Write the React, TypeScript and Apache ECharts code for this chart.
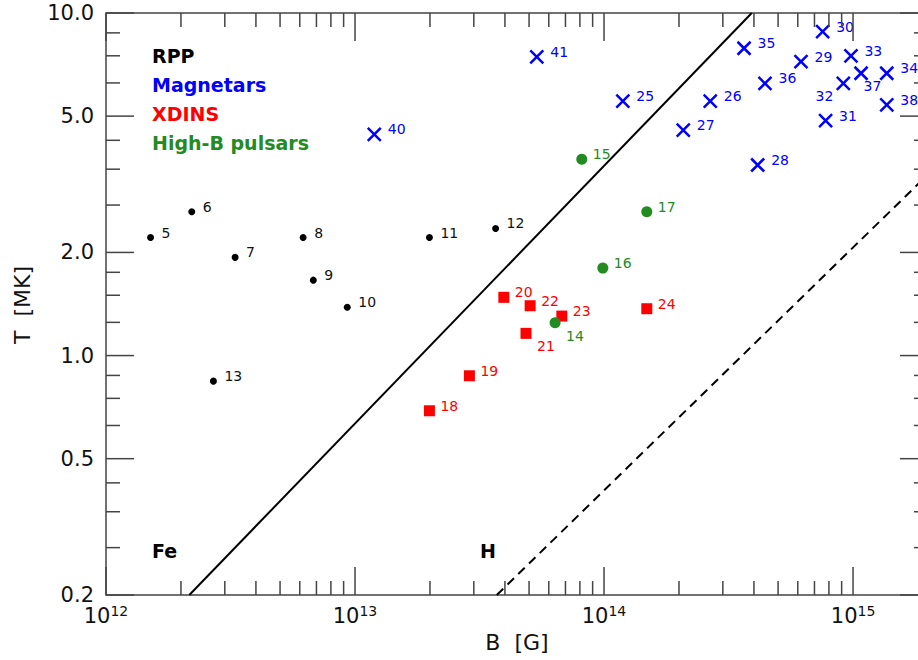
import React, { useEffect, useRef } from 'react';
import * as echarts from 'echarts';

// Axis ranges
const B_MIN = 1e12;
const B_MAX = 2e15;
const T_MIN = 0.2;
const T_MAX = 10;

// Rotation-powered pulsars
const rppNames = ['5', '6', '7', '8', '9', '10', '11', '12', '13'];
const rppB = [1.51e12, 2.21e12, 3.3e12, 6.19e12, 6.8e12, 9.31e12, 1.99e13, 3.67e13, 2.7e12];
const rppT = [2.21, 2.63, 1.935, 2.21, 1.66, 1.383, 2.21, 2.35, 0.842];

// Magnetars
const magNames = ['25', '26', '27', '28', '29', '30', '31', '32', '33', '34', '35', '36', '37', '38', '40', '41'];
const magB = [1.19e14, 2.67e14, 2.08e14, 4.14e14, 6.18e14, 7.55e14, 7.76e14, 9.14e14, 9.81e14, 1.366e15, 3.65e14, 4.43e14, 1.077e15, 1.366e15, 1.195e13, 5.37e13];
const magT = [5.53, 5.53, 4.55, 3.6, 7.21, 8.82, 4.85, 6.23, 7.5, 6.67, 7.89, 6.23, 6.67, 5.39, 4.42, 7.45];

// XDINS
const xdinsNames = ['18', '19', '20', '21', '22', '23', '24'];
const xdinsB = [1.99e13, 2.88e13, 3.96e13, 4.86e13, 5.05e13, 6.77e13, 1.485e14];
const xdinsT = [0.69, 0.873, 1.479, 1.161, 1.398, 1.304, 1.37];

// High-B pulsars
const highBNames = ['14', '15', '16', '17'];
const highBB = [6.36e13, 8.14e13, 9.89e13, 1.485e14];
const highBT = [1.247, 3.74, 1.8, 2.63];

// Boundary lines
const feLineB = [2.16e12, 3.92e14];
const feLineT = [0.2, 10];
const hLineB = [3.71e13, 2e15];
const hLineT = [0.2, 3.38];

// Ticks
const xMajorTicks = [1e12, 1e13, 1e14, 1e15];
const xMinorTicks = [
  2e12, 3e12, 4e12, 5e12, 6e12, 7e12, 8e12, 9e12,
  2e13, 3e13, 4e13, 5e13, 6e13, 7e13, 8e13, 9e13,
  2e14, 3e14, 4e14, 5e14, 6e14, 7e14, 8e14, 9e14,
];
const yMajorTicks = [0.2, 0.5, 1, 2, 5, 10];
const yTickLabels = ['0.2', '0.5', '1.0', '2.0', '5.0', '10.0'];
const yMinorTicks = [0.275, 0.35, 0.425, 0.625, 0.75, 0.875, 1.25, 1.5, 1.75, 2.75, 3.5, 4.25, 6.25, 7.5, 8.75];

const legendItems = ['RPP', 'Magnetars', 'XDINS', 'High-B pulsars'];

const BLACK = '#000000';
const BLUE = '#0000ff';
const RED = '#ff0000';
const GREEN = '#228b22';
const TICK = '#444444';
const FONT = '"DejaVu Sans", sans-serif';

const legendColors = [BLACK, BLUE, RED, GREEN];

const labelBelowRight = ['21', '14'];
const labelBelowLeft = ['32'];
const labelBelow = ['37'];

function points(names: string[], bs: number[], ts: number[]) {
  return names.map((n, i) => {
    const item: any = { name: n, value: [bs[i], ts[i]] };
    if (labelBelowRight.includes(n)) item.label = { position: 'right', offset: [0, 13] };
    if (labelBelowLeft.includes(n)) item.label = { position: 'left', distance: 1, offset: [0, 13] };
    if (labelBelow.includes(n)) item.label = { position: 'right', offset: [-11, 13] };
    return item;
  });
}

function tickSeries(values: number[], axis: 'x' | 'y', len: number, labels?: string[]) {
  return {
    type: 'custom',
    silent: true,
    z: 5,
    clip: false,
    encode: { x: 0, y: 1 },
    data: values.map((v, i) => (axis === 'x' ? [v, T_MIN, i] : [B_MIN, v, i])),
    renderItem: (_params: any, api: any) => {
      const i = api.value(2);
      const style = { stroke: TICK, lineWidth: 1.5 };
      if (axis === 'x') {
        const v = api.value(0);
        const a = api.coord([v, T_MIN]);
        const b = api.coord([v, T_MAX]);
        return {
          type: 'group',
          children: [
            { type: 'line', shape: { x1: a[0], y1: a[1], x2: a[0], y2: a[1] - len }, style },
            { type: 'line', shape: { x1: b[0], y1: b[1], x2: b[0], y2: b[1] + len }, style },
          ],
        };
      }
      const v = api.value(1);
      const a = api.coord([B_MIN, v]);
      const b = api.coord([B_MAX, v]);
      const children: any[] = [
        { type: 'line', shape: { x1: a[0], y1: a[1], x2: a[0] + len, y2: a[1] }, style },
        { type: 'line', shape: { x1: b[0], y1: b[1], x2: b[0] - len, y2: b[1] }, style },
      ];
      if (labels) {
        children.push({
          type: 'text',
          x: a[0] - 12,
          y: a[1],
          style: {
            text: labels[i],
            fill: '#111',
            fontSize: 21,
            fontFamily: FONT,
            align: 'right',
            verticalAlign: 'middle',
          },
        });
      }
      return { type: 'group', children };
    },
  };
}

export default function App() {
  const ref = useRef<HTMLDivElement>(null);

  useEffect(() => {
    if (!ref.current) return;
    const chart = echarts.init(ref.current, null, { renderer: 'svg' });

    const labelBase = { show: true, formatter: '{b}', fontSize: 14, fontFamily: FONT, offset: [0, -5] };

    const option: any = {
      animation: false,
      backgroundColor: '#ffffff',
      textStyle: { fontFamily: FONT },
      grid: {
        left: 106,
        top: 13,
        width: 822,
        height: 582,
        outerBoundsMode: 'none',
        containLabel: false,
        show: true,
        borderColor: TICK,
        borderWidth: 1.5,
        backgroundColor: 'transparent',
      },
      xAxis: {
        type: 'log',
        logBase: 10,
        min: B_MIN,
        max: B_MAX,
        axisLine: { show: false },
        axisTick: { show: false },
        splitLine: { show: false },
        axisLabel: {
          margin: 9,
          color: '#111',
          formatter: (v: number) => {
            const l = Math.log10(v);
            const e = Math.round(l);
            if (Math.abs(l - e) > 1e-6) return '';
            return `{b|10}{s|${e}}`;
          },
          rich: {
            b: { fontSize: 21, lineHeight: 24, fontFamily: FONT, color: '#111' },
            s: { fontSize: 14, lineHeight: 12, verticalAlign: 'top', fontFamily: FONT, color: '#111' },
          },
        },
      },
      yAxis: {
        type: 'log',
        logBase: 10,
        min: T_MIN,
        max: T_MAX,
        axisLine: { show: false },
        axisTick: { show: false },
        splitLine: { show: false },
        axisLabel: { show: false },
      },
      graphic: [
        ...legendItems.map((t, i) => ({
          type: 'text',
          left: 152,
          top: 57 + i * 29 - 11,
          style: { text: t, fill: legendColors[i], fontSize: 19, fontWeight: 'bold', fontFamily: FONT },
        })),
        {
          type: 'text',
          left: 152,
          top: 541,
          style: { text: 'Fe', fill: BLACK, fontSize: 19, fontWeight: 'bold', fontFamily: FONT },
        },
        {
          type: 'text',
          left: 480,
          top: 541,
          style: { text: 'H', fill: BLACK, fontSize: 19, fontWeight: 'bold', fontFamily: FONT },
        },
        {
          type: 'text',
          x: 22,
          y: 305,
          rotation: Math.PI / 2,
          style: { text: 'T  [MK]', fill: '#111', fontSize: 22, fontFamily: FONT, align: 'center', verticalAlign: 'middle' },
        },
        {
          type: 'text',
          x: 517,
          y: 642,
          style: { text: 'B  [G]', fill: '#111', fontSize: 22, fontFamily: FONT, align: 'center', verticalAlign: 'middle' },
        },
      ],
      series: [
        {
          type: 'line',
          data: feLineB.map((b, i) => [b, feLineT[i]]),
          symbol: 'none',
          lineStyle: { color: BLACK, width: 2 },
          z: 3,
        },
        {
          type: 'line',
          data: hLineB.map((b, i) => [b, hLineT[i]]),
          symbol: 'none',
          lineStyle: { color: BLACK, width: 2, type: [9, 6] },
          z: 3,
        },
        {
          type: 'scatter',
          name: 'RPP',
          symbol: 'circle',
          symbolSize: 7,
          itemStyle: { color: BLACK, opacity: 1 },
          data: points(rppNames, rppB, rppT),
          label: { ...labelBase, position: 'right', distance: 7.5, color: '#111' },
          z: 4,
        },
        {
          type: 'scatter',
          name: 'Magnetars',
          symbol: 'path://M0,0L10,10M0,10L10,0',
          symbolSize: 13,
          itemStyle: { color: 'none', borderColor: BLUE, borderWidth: 2.5, opacity: 1 },
          data: points(magNames, magB, magT),
          label: { ...labelBase, position: 'right', distance: 4.5, color: BLUE },
          z: 4,
        },
        {
          type: 'scatter',
          name: 'XDINS',
          symbol: 'rect',
          symbolSize: 11,
          itemStyle: { color: RED, opacity: 1 },
          data: points(xdinsNames, xdinsB, xdinsT),
          label: { ...labelBase, position: 'right', distance: 5.5, color: RED },
          z: 4,
        },
        {
          type: 'scatter',
          name: 'High-B pulsars',
          symbol: 'circle',
          symbolSize: 11,
          itemStyle: { color: GREEN, opacity: 1 },
          data: points(highBNames, highBB, highBT),
          label: { ...labelBase, position: 'right', distance: 5.5, color: GREEN },
          z: 4,
        },
        tickSeries(xMajorTicks, 'x', 28),
        tickSeries(xMinorTicks, 'x', 14),
        tickSeries(yMajorTicks, 'y', 28, yTickLabels),
        tickSeries(yMinorTicks, 'y', 14),
      ],
    };

    chart.setOption(option);
    return () => chart.dispose();
  }, []);

  return (
    <div
      ref={ref}
      style={{ position: 'absolute', left: 0, top: 0, width: 918, height: 660, background: '#fff' }}
    />
  );
}
